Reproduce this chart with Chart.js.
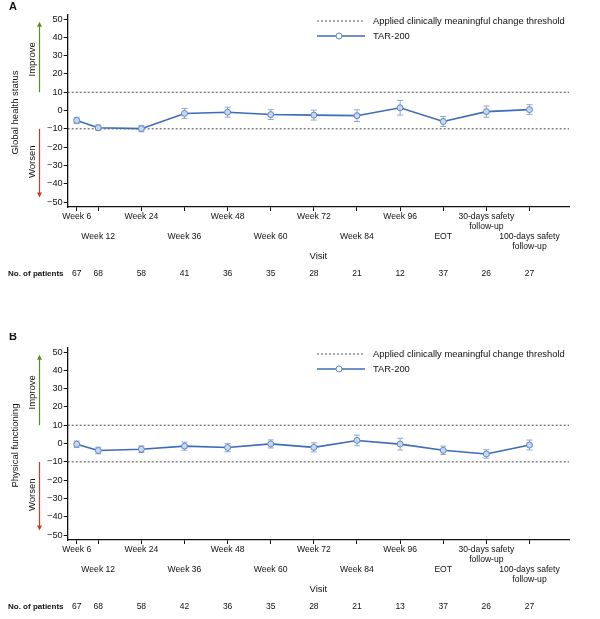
<!DOCTYPE html>
<html>
<head>
<meta charset="utf-8">
<script src="https://cdn.jsdelivr.net/npm/chart.js@4.4.1/dist/chart.umd.min.js"></script>
<style>
  body { margin: 0; background: #fff; width: 600px; height: 619px; overflow: hidden; position: relative; }
  .panel { position: absolute; left: 0; width: 600px; height: 286px; }
</style>
</head>
<body>
<div class="panel" style="top:0"><canvas id="chartA" width="600" height="286"></canvas></div>
<div class="panel" style="top:333px"><canvas id="chartB" width="600" height="286"></canvas></div>
<script>
"use strict";
// visits and their position on the week axis
const visits = [
  "Week 6", "Week 12", "Week 24", "Week 36", "Week 48", "Week 60",
  "Week 72", "Week 84", "Week 96", "EOT",
  "30-days safety\nfollow-up", "100-days safety\nfollow-up",
];
const visitWeeks = [6, 12, 24, 36, 48, 60, 72, 84, 96, 108, 120, 132];
const yTicks = [-50, -40, -30, -20, -10, 0, 10, 20, 30, 40, 50];
const thresholds = [10, -10];

// A: global health status
const ghsMean = [-5.4, -9.4, -9.9, -1.6, -0.9, -2.2, -2.5, -2.8, 1.5, -6.0, -0.6, 0.5];
const ghsErr = [1.7, 1.5, 1.7, 2.7, 2.7, 2.7, 2.7, 3.2, 4.0, 2.7, 3.1, 2.7];
const ghsPatients = [67, 68, 58, 41, 36, 35, 28, 21, 12, 37, 26, 27];

// B: physical functioning
const pfMean = [-0.4, -3.8, -3.1, -1.4, -2.2, -0.2, -2.1, 1.7, -0.3, -3.7, -5.7, -0.8];
const pfErr = [1.8, 1.8, 1.8, 2.2, 2.3, 2.2, 2.5, 2.9, 3.2, 2.3, 2.3, 2.7];
const pfPatients = [67, 68, 58, 42, 36, 35, 28, 21, 13, 37, 26, 27];

const X_MIN = 3.5, X_MAX = 143;
const FONT = "'Liberation Sans', Arial, sans-serif";
const INK = "#111";
const BLUE = "#3d6cb8";
const ERR_BLUE = "#8ca8d8";

Chart.defaults.font.family = FONT;
Chart.defaults.color = INK;

function arrow(ctx, x, y0, y1, color) {
  const dir = y1 < y0 ? -1 : 1;
  ctx.strokeStyle = color;
  ctx.fillStyle = color;
  ctx.lineWidth = 1.2;
  ctx.beginPath();
  ctx.moveTo(x, y0);
  ctx.lineTo(x, y1 - dir * 4);
  ctx.stroke();
  ctx.beginPath();
  ctx.moveTo(x, y1);
  ctx.lineTo(x - 2.5, y1 - dir * 5);
  ctx.lineTo(x + 2.5, y1 - dir * 5);
  ctx.closePath();
  ctx.fill();
}

function rotText(ctx, text, x, y) {
  ctx.save();
  ctx.translate(x, y);
  ctx.rotate(-Math.PI / 2);
  ctx.fillText(text, 0, 0);
  ctx.restore();
}

const decor = {
  id: "decor",
  beforeDatasetsDraw(chart, args, opts) {
    // error bars
    const { ctx, scales: { x, y } } = chart;
    ctx.save();
    ctx.strokeStyle = ERR_BLUE;
    ctx.lineWidth = 1;
    opts.mean.forEach((m, i) => {
      const px = x.getPixelForValue(visitWeeks[i]);
      const lo = y.getPixelForValue(m - opts.err[i]);
      const hi = y.getPixelForValue(m + opts.err[i]);
      ctx.beginPath();
      ctx.moveTo(px, lo); ctx.lineTo(px, hi);
      ctx.moveTo(px - 3, lo); ctx.lineTo(px + 3, lo);
      ctx.moveTo(px - 3, hi); ctx.lineTo(px + 3, hi);
      ctx.stroke();
    });
    ctx.restore();
  },
  afterDraw(chart, args, opts) {
    const { ctx, chartArea: area, scales: { x, y } } = chart;
    ctx.save();
    ctx.fillStyle = INK;

    // panel letter
    ctx.font = "bold 11px " + FONT;
    ctx.textAlign = "left";
    ctx.textBaseline = "middle";
    ctx.fillText(opts.letter, 9, opts.letterY);

    // y title, improve / worsen with arrows
    ctx.textAlign = "center";
    ctx.font = "9.5px " + FONT;
    rotText(ctx, opts.yTitle, 15, y.getPixelForValue(0) + 2);
    rotText(ctx, "Improve", 32, y.getPixelForValue(28));
    rotText(ctx, "Worsen", 32, y.getPixelForValue(-28));
    arrow(ctx, 39.5, y.getPixelForValue(10), y.getPixelForValue(48.5), "#5f8a25");
    arrow(ctx, 39.5, y.getPixelForValue(-10), y.getPixelForValue(-47.5), "#cc3b2a");

    // legend
    const lx0 = 317, lx1 = 365, tx = 373;
    const ly1 = area.top + 6, ly2 = area.top + 21;
    ctx.strokeStyle = "#555";
    ctx.lineWidth = 1;
    ctx.setLineDash([2, 2]);
    ctx.beginPath(); ctx.moveTo(lx0, ly1); ctx.lineTo(lx1, ly1); ctx.stroke();
    ctx.setLineDash([]);
    ctx.strokeStyle = BLUE;
    ctx.lineWidth = 1.6;
    ctx.beginPath(); ctx.moveTo(lx0, ly2); ctx.lineTo(lx1, ly2); ctx.stroke();
    ctx.fillStyle = "#fff";
    ctx.lineWidth = 1;
    ctx.strokeStyle = "#5f86c6";
    ctx.beginPath(); ctx.arc(339, ly2, 3, 0, Math.PI * 2); ctx.fill(); ctx.stroke();
    ctx.fillStyle = INK;
    ctx.font = "9.4px " + FONT;
    ctx.textAlign = "left";
    ctx.fillText("Applied clinically meaningful change threshold", tx, ly1);
    ctx.fillText("TAR-200", tx, ly2);

    // x title and patient row
    ctx.textAlign = "center";
    ctx.font = "9.5px " + FONT;
    ctx.fillText("Visit", (area.left + area.right) / 2, area.bottom + 49);
    ctx.font = "8.5px " + FONT;
    opts.patients.forEach((n, i) => {
      ctx.fillText(String(n), x.getPixelForValue(visitWeeks[i]), area.bottom + 66.5);
    });
    ctx.font = "bold 8px " + FONT;
    ctx.textAlign = "left";
    ctx.fillText("No. of patients", 8, area.bottom + 66.5);
    ctx.restore();
  },
};

function makeChart(id, letter, letterY, yTitle, mean, err, patients) {
  const lineData = visitWeeks.map((w, i) => ({ x: w, y: mean[i] }));
  const thresholdSets = thresholds.map((t) => ({
    label: "threshold " + t,
    data: [{ x: X_MIN, y: t }, { x: X_MAX, y: t }],
    borderColor: "#444",
    borderWidth: 1,
    borderDash: [2, 2],
    pointRadius: 0,
  }));

  return new Chart(document.getElementById(id), {
    type: "line",
    data: {
      datasets: [
        {
          label: "TAR-200",
          data: lineData,
          borderColor: BLUE,
          borderWidth: 1.6,
          pointRadius: 3,
          pointBorderWidth: 1,
          pointBackgroundColor: "#c8d6ee",
          pointBorderColor: "#5f86c6",
        },
        ...thresholdSets,
      ],
    },
    options: {
      responsive: false,
      animation: false,
      layout: { padding: { left: 0, top: 15, right: 31, bottom: 0 } },
      plugins: {
        legend: { display: false },
        tooltip: { enabled: false },
        decor: { letter, letterY, yTitle, mean, err, patients },
      },
      scales: {
        x: {
          type: "linear",
          min: X_MIN,
          max: X_MAX,
          afterBuildTicks: (s) => { s.ticks = visitWeeks.map((v) => ({ value: v })); },
          afterFit: (s) => { s.height = 79; },
          border: { color: INK, width: 1.3 },
          grid: { drawOnChartArea: false, tickLength: 4, color: INK, tickColor: INK },
          ticks: {
            autoSkip: false,
            maxRotation: 0,
            padding: 1,
            color: INK,
            font: { size: 8.6, lineHeight: 1.15 },
            callback: (v, i) => {
              const lines = visits[i].split("\n");
              return i % 2 ? ["", "", ...lines] : lines;
            },
          },
        },
        y: {
          min: -52.7,
          max: 52.2,
          afterBuildTicks: (s) => { s.ticks = yTicks.map((v) => ({ value: v })); },
          afterFit: (s) => { s.width = 67.7; },
          border: { color: INK, width: 1.3 },
          grid: { drawOnChartArea: false, tickLength: 4, color: INK, tickColor: INK },
          ticks: {
            padding: 1,
            color: INK,
            font: { size: 9.2 },
            callback: (v) => (v < 0 ? "\u2212" + Math.abs(v) : String(v)),
          },
        },
      },
    },
    plugins: [decor],
  });
}

makeChart("chartA", "A", 7, "Global health status", ghsMean, ghsErr, ghsPatients);
makeChart("chartB", "B", 4, "Physical functioning", pfMean, pfErr, pfPatients);
</script>
</body>
</html>
